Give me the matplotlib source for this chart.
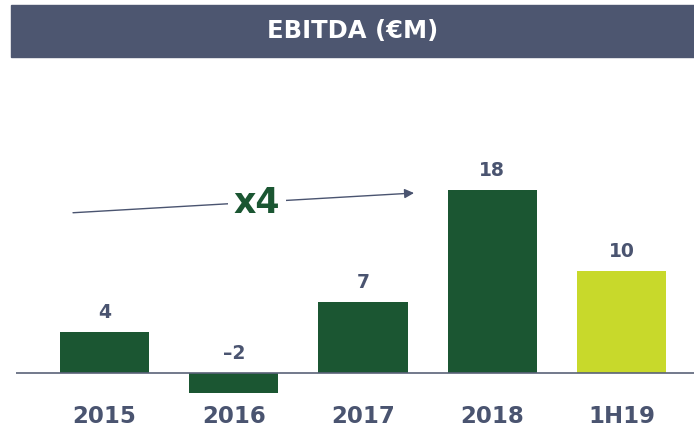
import matplotlib
matplotlib.use("Agg")
import matplotlib.pyplot as plt
from matplotlib.patches import Rectangle

categories = ["2015", "2016", "2017", "2018", "1H19"]
values = [4, -2, 7, 18, 10]
value_labels = ["4", "\u20132", "7", "18", "10"]
bar_colors = ["#1b5632", "#1b5632", "#1b5632", "#1b5632", "#c8d92b"]
title = "EBITDA (\u20acM)"
growth_label = "x4"

W, H = 694, 432
fig = plt.figure(figsize=(W / 100, H / 100), dpi=100)
slate = "#4a5470"
font = "DejaVu Sans"

# title banner
fig.patches.append(Rectangle((11 / W, 1 - 57 / H), (W - 11) / W, 52 / H,
                             transform=fig.transFigure, color="#4d5670", zorder=0))
fig.text((11 + W) / 2 / W, 1 - 31 / H, title, color="white", fontsize=17.5,
         fontweight="bold", ha="center", va="center", family=font)

ax = fig.add_axes([16 / W, 0, (W - 16) / W, (H - 60) / H])
x = list(range(len(categories)))
ax.bar(x, values, width=0.69, color=bar_colors, zorder=2)
ax.set_xlim(-0.685, 4.56)
ax.set_ylim(-5.83, 30.75)
ax.axhline(0, color="#5a6278", lw=1.2, zorder=3)
for s in ax.spines.values():
    s.set_visible(False)
ax.set_xticks([])
ax.set_yticks([])

for xi, v, lab in zip(x, values, value_labels):
    ax.annotate(lab, (xi, max(v, 0)), xytext=(0, 7), textcoords="offset points",
                ha="center", va="bottom", fontsize=13.5, fontweight="bold",
                color=slate, family=font)
    ax.text(xi, -4.26, categories[xi], ha="center", va="center", fontsize=16.5,
            fontweight="bold", color=slate, family=font)

# growth arrow
ax.annotate("", xy=(2.394, 17.67), xytext=(-0.244, 15.73),
            arrowprops=dict(arrowstyle="-|>", color=slate, lw=1.0,
                            mutation_scale=14, shrinkA=0, shrinkB=0), zorder=4)
ax.text(1.18, 16.7, growth_label, ha="center", va="center", fontsize=25,
        fontweight="bold", color="#1b5632", family=font, zorder=5,
        bbox=dict(facecolor="white", edgecolor="none", pad=4))

fig.savefig("out.png", dpi=100)
